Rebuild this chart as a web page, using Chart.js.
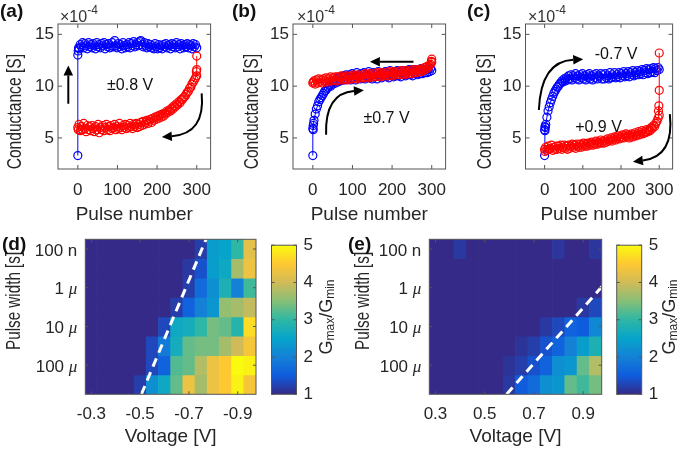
<!DOCTYPE html>
<html>
<head>
<meta charset="utf-8">
<script src="https://cdn.jsdelivr.net/npm/chart.js@4.4.1/dist/chart.umd.min.js"></script>
<style>
  body { margin:0; background:#fff; width:685px; height:451px; position:relative; overflow:hidden;
         font-family:"Liberation Sans", Arial, sans-serif; }
  canvas { position:absolute; }
  .lbl { position:absolute; font-weight:bold; font-size:19px; color:#111; line-height:1; }
  .exp { position:absolute; font-size:16px; color:#333; line-height:1; }
  .exp sup { font-size:12px; position:relative; top:-2px; }
</style>
</head>
<body>
<canvas id="ca"></canvas>
<canvas id="cb"></canvas>
<canvas id="cc"></canvas>
<canvas id="cd"></canvas>
<canvas id="cdbar"></canvas>
<canvas id="ce"></canvas>
<canvas id="cebar"></canvas>

<div class="lbl" style="left:0px;top:1px">(a)</div>
<div class="lbl" style="left:232px;top:1px">(b)</div>
<div class="lbl" style="left:467px;top:1px">(c)</div>
<div class="lbl" style="left:2px;top:234px">(d)</div>
<div class="lbl" style="left:348px;top:234px">(e)</div>
<div class="exp" style="left:60px;top:6px">×10<sup>-4</sup></div>
<div class="exp" style="left:297px;top:6px">×10<sup>-4</sup></div>
<div class="exp" style="left:528px;top:6px">×10<sup>-4</sup></div>

<script>
// ---- data ----
const pulseTicks = [0, 100, 200, 300];
const condTicks = [5, 10, 15];           // x1e-4 S
const pulseGrid = [3,6,9,12,15,18,21,24,27,30,33,36,39,42,45,48,51,54,57,60,
  63,66,69,72,75,78,81,84,87,90,93,96,99,102,105,108,111,114,117,120,
  123,126,129,132,135,138,141,144,147,150,153,156,159,162,165,168,171,174,177,180,
  183,186,189,192,195,198,201,204,207,210,213,216,219,222,225,228,231,234,237,240,
  243,246,249,252,255,258,261,264,267,270,273,276,279,282,285,288,291,294,297,300];

// (a) +-0.8 V
const aBlue = [13.6,14.0,13.8,14.2,13.7,14.1,13.9,13.6,14.2,13.8,
  14.0,13.7,14.1,13.9,13.6,14.2,13.8,14.0,13.7,14.1,
  13.9,14.2,13.6,14.0,13.8,14.1,13.7,13.9,14.2,13.8,
  14.4,13.9,13.7,14.1,13.8,14.0,13.6,14.2,13.9,13.7,
  14.0,13.8,14.2,13.7,14.1,13.9,14.3,13.8,14.0,14.2,
  13.9,14.3,14.4,14.0,13.8,14.2,13.9,13.7,14.1,13.8,
  14.0,13.7,13.9,13.6,14.1,13.8,13.6,14.0,13.7,13.9,
  13.6,14.0,13.8,14.1,13.7,13.9,14.0,13.6,14.1,13.8,
  14.0,13.7,14.2,13.8,14.0,13.6,14.1,13.9,13.7,14.0,
  13.8,14.1,13.7,14.0,13.9,13.6,14.1,13.8,14.0,13.7];
const aBlueEdgeX = [0, 0, 1, 2];
const aBlueEdgeY = [3.3, 13.0, 13.4, 13.7];
const aRed = [6.3,5.7,6.1,5.8,6.4,5.9,5.6,6.2,5.8,6.1,
  5.7,6.2,5.9,5.6,6.1,5.8,6.3,5.5,6.0,5.8,
  6.2,5.7,6.0,6.3,5.8,6.1,5.7,6.2,5.9,6.0,
  6.3,5.8,6.1,5.9,6.4,6.0,5.8,6.2,6.0,6.3,
  5.9,6.2,6.0,6.4,6.1,5.9,6.3,6.1,6.4,6.0,
  6.3,6.1,6.5,6.2,6.6,6.3,6.5,6.7,6.4,6.6,
  6.8,6.5,6.9,6.7,7.0,6.8,7.1,6.9,7.2,7.0,
  7.3,7.1,7.4,7.3,7.6,7.5,7.7,7.6,7.9,7.8,
  8.1,8.0,8.3,8.2,8.5,8.4,8.7,8.7,8.9,9.0,
  9.2,9.4,9.5,9.8,9.9,10.2,10.4,10.6,10.8,11.0];
const aRedEdgeX = [0, 1, 299, 300, 300];
const aRedEdgeY = [6.0, 5.8, 11.4, 11.6, 12.9];

// (b) +-0.7 V
const bBlue = [6.7,7.3,7.8,8.1,8.5,8.7,8.9,9.1,9.3,9.5,
  9.6,9.8,9.9,10.1,10.0,10.3,10.2,10.5,10.3,10.6,
  10.4,10.8,10.5,10.9,10.6,11.0,10.6,11.1,10.7,10.9,
  11.1,10.6,11.2,10.8,11.0,10.6,11.3,10.8,11.1,10.7,
  11.2,10.8,11.3,10.7,11.1,10.9,11.4,10.8,11.2,10.7,
  11.3,10.9,11.1,10.7,11.4,10.9,11.2,10.8,11.3,11.0,
  11.4,10.9,11.2,10.8,11.5,11.0,11.3,10.9,11.4,11.0,
  11.5,11.0,11.3,10.9,11.5,11.1,11.4,11.0,11.5,11.1,
  11.6,11.1,11.4,11.0,11.6,11.2,11.5,11.1,11.6,11.2,
  11.7,11.2,11.5,11.3,11.8,11.3,11.6,11.4,11.7,11.5];
const bBlueEdgeX = [0, 0, 1, 1, 2];
const bBlueEdgeY = [3.3, 5.9, 6.2, 5.8, 6.4];
const bRed = [10.5,10.2,10.6,10.3,10.7,10.4,10.6,10.3,10.7,10.5,
  10.8,10.4,10.7,10.5,10.9,10.5,10.8,10.6,10.9,10.5,
  10.9,10.6,10.8,11.0,10.6,10.9,10.7,11.0,10.6,10.9,
  10.7,11.0,10.7,11.1,10.8,11.0,10.7,11.1,10.8,11.0,
  10.8,11.1,10.8,11.2,10.9,11.1,10.8,11.2,10.9,11.1,
  10.9,11.2,10.9,11.3,11.0,11.2,10.9,11.3,11.0,11.2,
  11.0,11.3,11.0,11.4,11.1,11.3,11.0,11.4,11.1,11.3,
  11.1,11.4,11.1,11.5,11.2,11.4,11.1,11.5,11.2,11.4,
  11.2,11.5,11.2,11.6,11.3,11.5,11.3,11.6,11.4,11.6,
  11.4,11.7,11.5,11.8,11.6,11.9,11.8,12.0,12.1,12.3];
const bRedEdgeX = [0, 1, 299, 300];
const bRedEdgeY = [10.3, 10.4, 12.4, 12.6];

// (c) -0.7 V / +0.9 V
const cBlue = [6.3,7.0,7.6,8.0,8.4,8.7,9.0,9.3,9.5,9.7,
  9.9,10.0,10.2,10.3,10.5,10.4,10.7,10.5,10.8,10.6,
  11.0,10.7,11.1,10.6,11.0,10.8,11.2,10.7,11.0,10.6,
  11.1,10.8,11.2,10.7,11.0,10.6,11.1,10.8,11.2,10.7,
  11.0,10.6,11.1,10.8,11.2,10.7,11.0,10.9,11.2,10.7,
  11.1,10.7,11.2,10.8,11.0,10.7,11.3,10.8,11.1,10.9,
  11.3,10.8,11.1,10.9,11.3,10.8,11.2,11.0,11.4,10.9,
  11.2,11.0,11.4,10.9,11.3,11.1,11.5,11.0,11.3,11.1,
  11.5,11.1,11.4,11.2,11.6,11.1,11.5,11.3,11.7,11.2,
  11.6,11.3,11.7,11.4,11.8,11.3,11.7,11.5,11.8,11.6];
const cBlueEdgeX = [0, 0, 1, 1, 2];
const cBlueEdgeY = [3.3, 5.8, 6.1, 5.7, 6.0];
const cRed = [4.1,3.8,4.2,3.9,4.0,4.3,3.8,4.1,3.9,4.2,
  3.9,4.2,4.0,4.3,3.9,4.1,4.3,4.0,4.2,3.9,
  4.3,4.0,4.2,4.4,4.1,4.3,4.0,4.4,4.2,4.1,
  4.4,4.1,4.3,4.5,4.2,4.4,4.2,4.5,4.3,4.4,
  4.6,4.3,4.5,4.4,4.7,4.4,4.6,4.5,4.8,4.5,
  4.7,4.5,4.8,4.6,4.9,4.7,4.8,5.0,4.7,4.9,
  5.1,4.8,5.0,5.2,4.9,5.1,5.0,5.3,5.0,5.2,
  5.4,5.1,5.3,5.0,5.2,5.4,5.1,5.3,5.5,5.2,
  5.4,5.6,5.3,5.5,5.7,5.4,5.6,5.5,5.8,5.6,
  5.8,5.7,6.0,5.9,6.2,6.1,6.4,6.6,6.9,7.2];
const cRedEdgeX = [0, 1, 298, 299, 300, 300];
const cRedEdgeY = [3.9, 3.7, 7.6, 8.1, 9.6, 13.2];

// heat maps: Gmax/Gmin vs voltage and pulse width (log10 s)
const voltsNeg = [-0.3,-0.35,-0.4,-0.45,-0.5,-0.55,-0.6,-0.65,-0.7,-0.75,-0.8,-0.85,-0.9,-0.95];
const voltsPos = [0.3,0.35,0.4,0.45,0.5,0.55,0.6,0.65,0.7,0.75,0.8,0.85,0.9,0.95];
const voltTicksNeg = [-0.3, -0.5, -0.7, -0.9];
const voltTicksPos = [0.3, 0.5, 0.7, 0.9];
const widthRows = [-7, -6.5, -6, -5.5, -5, -4.5, -4, -3.5];
const widthTicks = [-7, -6, -5, -4];
const widthLabels = [['100', 'n'], ['1', 'μ'], ['10', 'μ'], ['100', 'μ']];
const ratioNeg = [
  [1,1,1,1,1,1,1,1,1,1.2,2.4,2.5,3.0,4.2],
  [1,1,1,1,1,1,1,1,1.15,1.4,2.4,2.6,3.7,4.3],
  [1,1,1,1,1,1,1,1,1.2,1.7,2.2,2.8,2.0,3.1],
  [1,1,1,1,1,1,1,1.2,1.6,2.0,2.3,3.6,3.7,3.9],
  [1,1,1,1,1,1,1.3,2.6,2.7,3.0,3.4,3.3,2.9,4.7],
  [1,1,1,1,1,1.3,1.9,2.7,3.3,3.4,3.4,3.7,4.0,4.4],
  [1,1,1,1,1,1.3,1.6,3.2,3.3,3.8,4.3,4.5,5.0,4.9],
  [1,1,1,1,1.2,2.2,2.6,3.3,4.3,3.7,4.3,4.5,4.9,4.4]
];
const ratioPos = [
  [1,1,1.15,1,1,1,1,1,1,1,1.12,1,1,1.12],
  [1,1,1,1,1,1,1,1,1,1,1,1,1,1],
  [1,1,1,1,1,1,1,1,1,1,1,1,1,1],
  [1,1,1,1,1,1,1,1,1,1,1,1,1.15,1.3],
  [1,1,1,1,1,1,1,1,1,1.15,1.3,1.6,1.5,2.1],
  [1,1,1,1,1,1,1,1.1,1.2,1.4,1.6,2.0,2.4,2.8],
  [1,1,1,1,1,1,1.1,1.2,1.4,1.6,2.2,2.3,3.3,3.8],
  [1,1,1,1,1,1,1.15,1.5,1.7,2.2,2.3,3.3,3.1,3.4]
];
const boundaryNeg = [[-0.505, -3.25], [-0.77, -7.25]];
const boundaryPos = [[0.589, -3.25], [0.976, -6.03]];
const cbRange = [1, 5];
const cbTicks = [1, 2, 3, 4, 5];

// ---- drawing ----
const FONT = "'Liberation Sans', Arial, sans-serif";
const INK = '#262626';
const BOX = '#555';
Chart.defaults.font.family = FONT;
Chart.defaults.color = INK;

const parulaStops = [[0,'#352a87'],[0.125,'#0f5cdd'],[0.25,'#1481d6'],[0.375,'#06a4ca'],
  [0.5,'#2eb7a4'],[0.625,'#87bf77'],[0.75,'#d1bb59'],[0.875,'#fec832'],[1,'#f9fb0e']];
function hexRgb(h) { return [1,3,5].map(i => parseInt(h.slice(i, i + 2), 16)); }
function parula(v) {
  const t = Math.min(1, Math.max(0, (v - 1) / 4));
  for (let i = 1; i < parulaStops.length; i++) {
    const [t1, c1] = parulaStops[i];
    if (t <= t1) {
      const [t0, c0] = parulaStops[i - 1];
      const f = (t - t0) / (t1 - t0), a = hexRgb(c0), b = hexRgb(c1);
      return 'rgb(' + a.map((x, k) => Math.round(x + (b[k] - x) * f)).join(',') + ')';
    }
  }
  return parulaStops[parulaStops.length - 1][1];
}

function pts(xs, ys) { return xs.map((x, i) => ({x: x, y: ys[i]})); }
function series(grid, ex, ey) {
  return pts(pulseGrid, grid).concat(pts(ex, ey)).sort((p, q) => p.x - q.x);
}

function frame(cfg) {
  return {
    id: 'frame',
    afterDraw(chart) {
      const {ctx, chartArea: a} = chart;
      const xs = chart.scales.x, ys = chart.scales.y;
      ctx.save();
      ctx.strokeStyle = BOX; ctx.lineWidth = 1;
      ctx.strokeRect(a.left, a.top, a.right - a.left, a.bottom - a.top);
      const L = cfg.tick || 4;
      ctx.beginPath();
      if (!cfg.noX) xs.ticks.forEach(t => {
        const p = xs.getPixelForValue(t.value);
        ctx.moveTo(p, a.bottom); ctx.lineTo(p, a.bottom - L);
        ctx.moveTo(p, a.top); ctx.lineTo(p, a.top + L);
      });
      ys.ticks.forEach(t => {
        const p = ys.getPixelForValue(t.value);
        ctx.moveTo(a.left, p); ctx.lineTo(a.left + L, p);
        ctx.moveTo(a.right, p); ctx.lineTo(a.right - L, p);
      });
      ctx.stroke();

      // arrows (data coords)
      ctx.fillStyle = '#000'; ctx.strokeStyle = '#000'; ctx.lineWidth = 2;
      (cfg.arrows || []).forEach(ar => {
        const P = ar.map(([x, y]) => [xs.getPixelForValue(x), ys.getPixelForValue(y)]);
        const E = P[P.length - 1], B = P[P.length - 2];
        let dx = E[0] - B[0], dy = E[1] - B[1];
        const d = Math.hypot(dx, dy); dx /= d; dy /= d;
        const hl = 10, hw = 4.8;
        const bx = E[0] - dx * hl, by = E[1] - dy * hl;
        ctx.beginPath(); ctx.moveTo(P[0][0], P[0][1]);
        if (P.length === 3) ctx.quadraticCurveTo(P[1][0], P[1][1], bx, by);
        else ctx.lineTo(bx, by);
        ctx.stroke();
        ctx.beginPath(); ctx.moveTo(E[0], E[1]);
        ctx.lineTo(bx - dy * hw, by + dx * hw); ctx.lineTo(bx + dy * hw, by - dx * hw);
        ctx.closePath(); ctx.fill();
      });
      ctx.font = '16px ' + FONT; ctx.fillStyle = '#111';
      ctx.textAlign = 'center'; ctx.textBaseline = 'middle';
      (cfg.texts || []).forEach(t => ctx.fillText(t.text, xs.getPixelForValue(t.x), ys.getPixelForValue(t.y)));

      // rotated y title
      if (cfg.ytitle) {
        const t = cfg.ytitle;
        ctx.save();
        ctx.translate(t.x, t.y); ctx.rotate(-Math.PI / 2); ctx.scale(t.sq, 1);
        ctx.font = t.size + 'px ' + FONT; ctx.fillStyle = INK;
        ctx.fillText(t.text, 0, 0);
        ctx.restore();
      }
      // pulse-width tick labels with italic mu
      if (cfg.wlabels) {
        ctx.fillStyle = INK; ctx.textAlign = 'right'; ctx.textBaseline = 'middle';
        widthTicks.forEach((v, i) => {
          const [num, unit] = widthLabels[i];
          const y = ys.getPixelForValue(v) + 2, x = a.left - 8;
          ctx.font = unit === 'μ' ? 'italic 17px "Liberation Serif", serif' : '17px ' + FONT;
          const uw = ctx.measureText(unit).width;
          ctx.fillText(unit, x, y);
          ctx.font = '17px ' + FONT;
          ctx.fillText(num + ' ', x - uw, y);
        });
      }
      // colorbar title G_max/G_min
      if (cfg.cbtitle) {
        const parts = [['G', 18, 0], ['max', 12, 4], ['/G', 18, 0], ['min', 12, 4]];
        ctx.save();
        ctx.translate(cfg.cbtitle.x, cfg.cbtitle.y); ctx.rotate(-Math.PI / 2);
        ctx.fillStyle = INK; ctx.textAlign = 'left'; ctx.textBaseline = 'middle';
        let w = 0;
        parts.forEach(p => { ctx.font = p[1] + 'px ' + FONT; w += ctx.measureText(p[0]).width; });
        let x = -w / 2;
        parts.forEach(p => {
          ctx.font = p[1] + 'px ' + FONT;
          ctx.fillText(p[0], x, p[2]);
          x += ctx.measureText(p[0]).width;
        });
        ctx.restore();
      }
      ctx.restore();
    }
  };
}

const noGrid = {display: false, drawTicks: false, tickLength: 0};

function place(id, left, top, width, height) {
  const cv = document.getElementById(id);
  cv.style.left = left + 'px'; cv.style.top = top + 'px';
  cv.width = width; cv.height = height;
  return cv;
}

function curve(id, box, sets, notes) {
  const cv = place(id, box.left, 0, box.width, 228);
  notes.ytitle = {text: 'Conductance [S]', x: box.titleX - box.left, y: 111.7, size: 20, sq: 0.78};
  new Chart(cv, {
    type: 'scatter',
    data: {datasets: sets.map(s => ({
      data: s.data, showLine: true, borderColor: s.color, borderWidth: 1,
      pointRadius: 4, pointHoverRadius: 4, pointBorderWidth: 1.2,
      pointBorderColor: s.color, pointBackgroundColor: 'rgba(0,0,0,0)'
    }))},
    options: {
      responsive: false, devicePixelRatio: 1, animation: false, events: [],
      layout: {padding: {left: 0, top: 24, right: box.left + box.width - box.areaR, bottom: 0}},
      plugins: {legend: {display: false}, tooltip: {enabled: false}},
      scales: {
        x: {type: 'linear', min: -50, max: 335, grid: noGrid, border: {display: false},
            afterBuildTicks: s => { s.ticks = pulseTicks.map(v => ({value: v})); },
            afterFit: s => { s.height = 59; },
            ticks: {font: {size: 17}, color: INK, padding: 11, maxRotation: 0, autoSkip: false},
            title: {display: true, text: 'Pulse number', font: {size: 19}, color: INK,
                    padding: {top: 0, bottom: 2}}},
        y: {type: 'linear', min: 2, max: 16, grid: noGrid, border: {display: false},
            afterBuildTicks: s => { s.ticks = condTicks.map(v => ({value: v})); },
            afterFit: s => { s.width = box.areaL - box.left; },
            ticks: {font: {size: 17}, color: INK, padding: 4}}
      }
    },
    plugins: [frame(notes)]
  });
}

function heat(id, box, volts, ratios, xr, reverse, vticks, boundary) {
  const cv = place(id, box.left, 228, box.width, 223);
  const bars = widthRows.map((r, i) => ({
    type: 'bar',
    data: volts.map(v => ({x: v, y: [r - 0.25, r + 0.25]})),
    backgroundColor: ratios[i].map(parula),
    borderWidth: 0, barPercentage: 1, categoryPercentage: 1, grouped: false, order: 2
  }));
  bars.push({type: 'line', data: boundary.map(([x, y]) => ({x: x, y: y})),
             borderColor: '#fff', borderWidth: 3, borderDash: [9, 6], pointRadius: 0, order: 1});
  new Chart(cv, {
    type: 'bar',
    data: {datasets: bars},
    options: {
      responsive: false, devicePixelRatio: 1, animation: false, events: [],
      layout: {padding: {left: 0, top: 239.3 - 228, right: box.left + box.width - box.areaR, bottom: 0}},
      plugins: {legend: {display: false}, tooltip: {enabled: false}},
      scales: {
        x: {type: 'linear', offset: false, min: xr[0], max: xr[1], reverse: reverse,
            grid: noGrid, border: {display: false},
            afterBuildTicks: s => { s.ticks = vticks.map(v => ({value: v})); },
            afterFit: s => { s.height = 451 - 394.3; },
            ticks: {font: {size: 17}, color: INK, padding: 10, maxRotation: 0, autoSkip: false,
                    callback: v => v.toFixed(1)},
            title: {display: true, text: 'Voltage [V]', font: {size: 19}, color: INK,
                    padding: {top: 0, bottom: 3}}},
        y: {type: 'linear', min: -7.25, max: -3.25, reverse: true, grid: noGrid, border: {display: false},
            afterBuildTicks: s => { s.ticks = widthTicks.map(v => ({value: v})); },
            afterFit: s => { s.width = box.areaL - box.left; },
            ticks: {display: false}}
      }
    },
    plugins: [frame({tick: 3, wlabels: true,
      ytitle: {text: 'Pulse width [s]', x: box.titleX - box.left, y: 300.9 - 228, size: 20, sq: 0.76}})]
  });
}

function cbar(id, box) {
  const cv = place(id, box.left, 228, box.width, 223);
  new Chart(cv, {
    type: 'bar',
    data: {labels: [''], datasets: [{
      data: [cbRange], borderWidth: 0, barPercentage: 1, categoryPercentage: 1,
      backgroundColor: c => {
        const a = c.chart.chartArea;
        if (!a) return 'rgba(0,0,0,0)';
        const g = c.chart.ctx.createLinearGradient(0, a.bottom, 0, a.top);
        parulaStops.forEach(([t, col]) => g.addColorStop(t, col));
        return g;
      }
    }]},
    options: {
      responsive: false, devicePixelRatio: 1, animation: false, events: [],
      layout: {padding: {left: box.areaL - box.left, top: 239.3 - 228, right: 0, bottom: 451 - 394.3}},
      plugins: {legend: {display: false}, tooltip: {enabled: false}},
      scales: {
        x: {display: false},
        y: {position: 'right', min: cbRange[0], max: cbRange[1], grid: noGrid, border: {display: false},
            afterBuildTicks: s => { s.ticks = cbTicks.map(v => ({value: v})); },
            afterFit: s => { s.width = box.left + box.width - box.areaR; },
            ticks: {font: {size: 17}, color: INK, padding: 7}}
      }
    },
    plugins: [frame({tick: 3, noX: true, cbtitle: {x: box.titleX - box.left, y: 317 - 228}})]
  });
}

curve('ca', {left: 0, width: 228, areaL: 58, areaR: 210.6, titleX: 15.5}, [
  {data: series(aRed, aRedEdgeX, aRedEdgeY), color: '#ff0000'},
  {data: series(aBlue, aBlueEdgeX, aBlueEdgeY), color: '#0000ff'}
], {
  texts: [{x: 132, y: 10.1, text: '±0.8 V'}],
  arrows: [[[-24, 8.3], [-24, 12.0]], [[312.5, 9.3], [322, 5.4], [212, 5.1]]]
});
curve('cb', {left: 232, width: 228, areaL: 293, areaR: 445.6, titleX: 252.5}, [
  {data: series(bRed, bRedEdgeX, bRedEdgeY), color: '#ff0000'},
  {data: series(bBlue, bBlueEdgeX, bBlueEdgeY), color: '#0000ff'}
], {
  texts: [{x: 186, y: 6.9, text: '±0.7 V'}],
  arrows: [[[254, 12.35], [144, 12.35]], [[33.5, 5.3], [30, 9.3], [129, 9.6]]]
});
curve('cc', {left: 462, width: 223, areaL: 525.5, areaR: 678.6, titleX: 485.7}, [
  {data: series(cRed, cRedEdgeX, cRedEdgeY), color: '#ff0000'},
  {data: series(cBlue, cBlueEdgeX, cBlueEdgeY), color: '#0000ff'}
], {
  texts: [{x: 187, y: 13.0, text: '-0.7 V'}, {x: 141, y: 6.0, text: '+0.9 V'}],
  arrows: [[[-15, 7.7], [-10, 12.4], [101, 12.6]], [[327.7, 7.3], [340, 3.2], [231, 2.7]]]
});

heat('cd', {left: 0, width: 265, areaL: 85.3, areaR: 256, titleX: 14.5},
     voltsNeg, ratioNeg, [-0.975, -0.275], true, voltTicksNeg, boundaryNeg);
heat('ce', {left: 345, width: 265, areaL: 429.3, areaR: 601.7, titleX: 363.3},
     voltsPos, ratioPos, [0.275, 0.975], false, voltTicksPos, boundaryPos);
cbar('cdbar', {left: 265, width: 80, areaL: 271.5, areaR: 296.5, titleX: 327});
cbar('cebar', {left: 610, width: 75, areaL: 616.7, areaR: 641.7, titleX: 670});
</script>
</body>
</html>
